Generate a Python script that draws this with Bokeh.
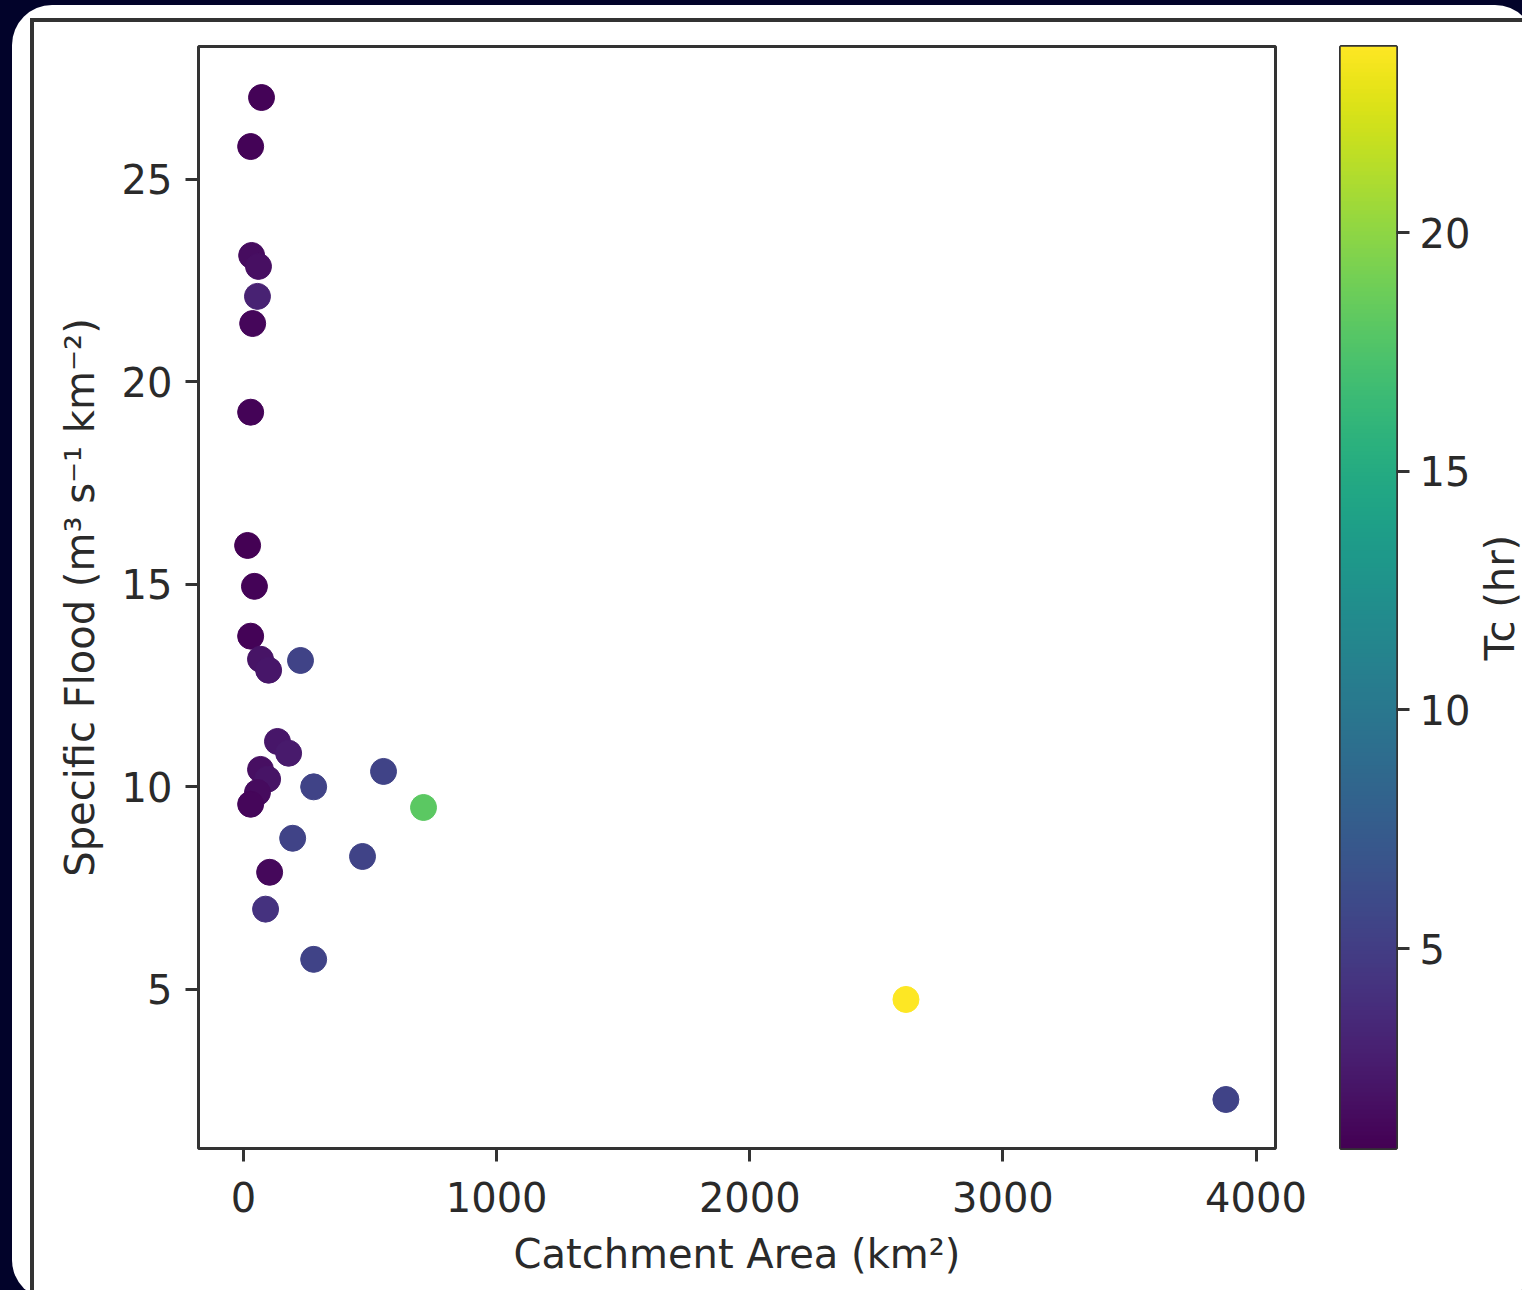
import numpy as np
from bokeh.plotting import figure
from bokeh.models import (Range1d, FixedTicker, ColumnDataSource, LinearColorMapper,
                          GlobalInlineStyleSheet)
from bokeh.layouts import row, column
from bokeh.palettes import Viridis256
from bokeh.transform import linear_cmap
from bokeh.embed import file_html
from bokeh.resources import INLINE

# ---- data ----
catchment_area = [71, 28, 32, 59, 55, 36, 28, 16, 43, 28, 67, 99, 225, 134, 178,
                  67, 95, 55, 28, 277, 553, 711, 194, 470, 103, 87, 277, 2617, 3881]
specific_flood = [27.02, 25.81, 23.12, 22.85, 22.11, 21.44, 19.25, 15.96, 14.95, 13.72,
                  13.15, 12.88, 13.12, 11.12, 10.83, 10.43, 10.19, 9.86, 9.57, 10.0,
                  10.38, 9.49, 8.73, 8.28, 7.89, 6.98, 5.74, 4.75, 2.28]
tc_hr = [1.0, 1.0, 1.6, 1.8, 3.0, 1.2, 1.0, 0.81, 1.0, 1.0, 2.0, 2.2, 5.5, 2.2, 2.5,
         1.8, 2.0, 1.5, 1.2, 5.5, 5.5, 18.1, 5.5, 5.5, 1.3, 4.2, 5.5, 23.9, 5.5]

x_ticks = [0, 1000, 2000, 3000, 4000]
y_ticks = [5, 10, 15, 20, 25]
cbar_ticks = [5, 10, 15, 20]

x_label = "Catchment Area (km²)"
y_label = "Specific Flood (m³ s⁻¹ km⁻²)"
cbar_label = "Tc (hr)"

FONT = "DejaVu Sans"
TXT = "#2a2a2a"
LINE = "#333333"
FS = "40px"
NAVY = "#02032a"

vmin, vmax = min(tc_hr), max(tc_hr)
src = ColumnDataSource(dict(area=catchment_area, flood=specific_flood, tc=tc_hr))


def style_axis(ax):
    ax.axis_line_color = None
    ax.major_tick_line_color = LINE
    ax.major_tick_line_width = 3
    ax.major_tick_out = 13
    ax.major_tick_in = 0
    ax.minor_tick_line_color = None
    ax.major_label_text_font = FONT
    ax.major_label_text_font_size = FS
    ax.major_label_text_color = TXT
    ax.axis_label_text_font = FONT
    ax.axis_label_text_font_size = FS
    ax.axis_label_text_color = TXT
    ax.axis_label_text_font_style = "normal"


# ---- main scatter ----
p1 = figure(width=1280, height=1278, x_range=Range1d(-178, 4077), y_range=Range1d(1.07, 28.28),
            output_backend="svg", toolbar_location=None,
            min_border_left=164, min_border_right=39, min_border_top=24, min_border_bottom=152)
cmap = linear_cmap("tc", Viridis256, vmin, vmax)
p1.scatter(x="area", y="flood", source=src, size=26, fill_color=cmap, line_color=cmap, line_width=1)

p1.xaxis.ticker = FixedTicker(ticks=x_ticks)
p1.yaxis.ticker = FixedTicker(ticks=y_ticks)
p1.xaxis.axis_label = x_label
p1.yaxis.axis_label = y_label
for ax in p1.axis:
    style_axis(ax)
p1.xaxis.major_label_standoff = 20
p1.yaxis.major_label_standoff = 13
p1.xaxis.axis_label_standoff = 16
p1.yaxis.axis_label_standoff = 16
p1.grid.visible = False
p1.outline_line_color = LINE
p1.outline_line_width = 3
p1.outline_line_alpha = 1
p1.background_fill_color = "white"
p1.border_fill_color = "white"

# ---- colour bar as its own narrow figure ----
p2 = figure(width=159, height=1278, x_range=Range1d(0, 1), y_range=Range1d(vmin, vmax),
            output_backend="svg", toolbar_location=None, x_axis_location=None,
            y_axis_location="right",
            min_border_left=26, min_border_right=75, min_border_top=24, min_border_bottom=152)
grad = np.linspace(vmin, vmax, 256).reshape(256, 1)
mapper = LinearColorMapper(palette=Viridis256, low=vmin, high=vmax)
p2.image(image=[grad], x=0, y=vmin, dw=1, dh=vmax - vmin, color_mapper=mapper)
p2.grid.visible = False
ax = p2.yaxis[0]
ax.ticker = FixedTicker(ticks=cbar_ticks)
style_axis(ax)
ax.major_label_standoff = 10
p2.outline_line_color = LINE
p2.outline_line_width = 3
p2.border_fill_color = "white"

# ---- colour-bar title: the left-axis label of a slim companion figure (reads upward) ----
p3 = figure(width=55, height=1278, x_range=Range1d(0, 1), y_range=Range1d(0, 1),
            output_backend="svg", toolbar_location=None, x_axis_location=None,
            y_axis_location="left",
            min_border_left=40, min_border_right=0, min_border_top=24, min_border_bottom=152)
ax3 = p3.yaxis[0]
ax3.ticker = FixedTicker(ticks=[])
style_axis(ax3)
ax3.major_tick_out = 0
ax3.axis_label = cbar_label
ax3.axis_label_standoff = 0
p3.grid.visible = False
p3.outline_line_color = None
p3.border_fill_color = "white"
p3.background_fill_color = "white"

inner = row(p1, p2, p3, styles={"border-top": f"4px solid {LINE}", "border-left": f"4px solid {LINE}"})
panel = column(inner, styles={"position": "absolute", "left": "12px", "top": "5px",
                              "width": "1523px", "height": "1295px", "padding": "13px 0px 0px 18px",
                              "box-sizing": "border-box", "background-color": "#ffffff",
                              "border-radius": "40px", "overflow": "hidden"})
panel.stylesheets = [GlobalInlineStyleSheet(css=f"html, body {{ background-color: {NAVY}; margin: 0; overflow: hidden; }}")]

open("out.html", "w").write(file_html(panel, INLINE))
